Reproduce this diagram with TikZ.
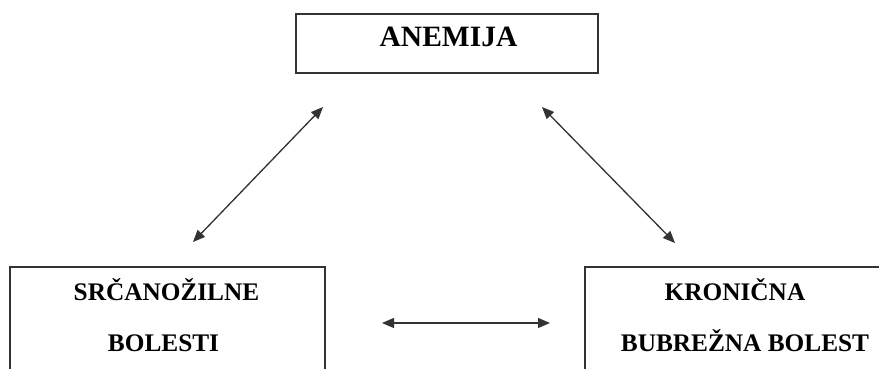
\documentclass[tikz,border=0pt]{standalone}
\usepackage{fontspec}
\setmainfont{Liberation Serif}
\usetikzlibrary{arrows.meta}
\begin{document}
\begin{tikzpicture}[x=1pt,y=-1pt,
  box/.style={draw=black!80, line width=1.2pt, inner sep=0pt},
  lbl/.style={font=\bfseries\fontsize{25.3}{30}\selectfont, inner sep=0pt, anchor=base},
  biglbl/.style={font=\bfseries\fontsize{29.5}{34}\selectfont, inner sep=0pt, anchor=base},
  biarrow/.style={{Triangle[length=12pt,width=10pt]}-{Triangle[length=12pt,width=10pt]}, line width=1.3pt, draw=black!80, fill=black}]
\useasboundingbox (0,0) rectangle (879,369);
\clip (0,0) rectangle (879,369);
% boxes
\node[box, minimum width=302pt, minimum height=59pt] (anemija) at (447,43.5) {};
\node[box, minimum width=315pt, minimum height=153pt] (srce) at (167.5,343.5) {};
\node[box, minimum width=315pt, minimum height=153pt] (bubreg) at (742.5,343.5) {};
% labels
\node[biglbl] (tA) at (448.5,47) {ANEMIJA};
\node[lbl] (tS1) at (166.5,300) {SRČANOŽILNE};
\node[lbl] (tS2) at (163.5,351) {BOLESTI};
\node[lbl] (tK1) at (735,300) {KRONIČNA};
\node[lbl] (tK2) at (745,351) {BUBREŽNA BOLEST};
% arrow ends
\coordinate (l1) at (323,107);
\coordinate (l2) at (193,242);
\coordinate (r1) at (542,107);
\coordinate (r2) at (675,243);
\coordinate (h1) at (382,323);
\coordinate (h2) at (550,323);
\draw[biarrow] (l1) -- (l2);
\draw[biarrow] (r1) -- (r2);
\draw[biarrow] (h1) -- (h2);
\end{tikzpicture}
\end{document}
